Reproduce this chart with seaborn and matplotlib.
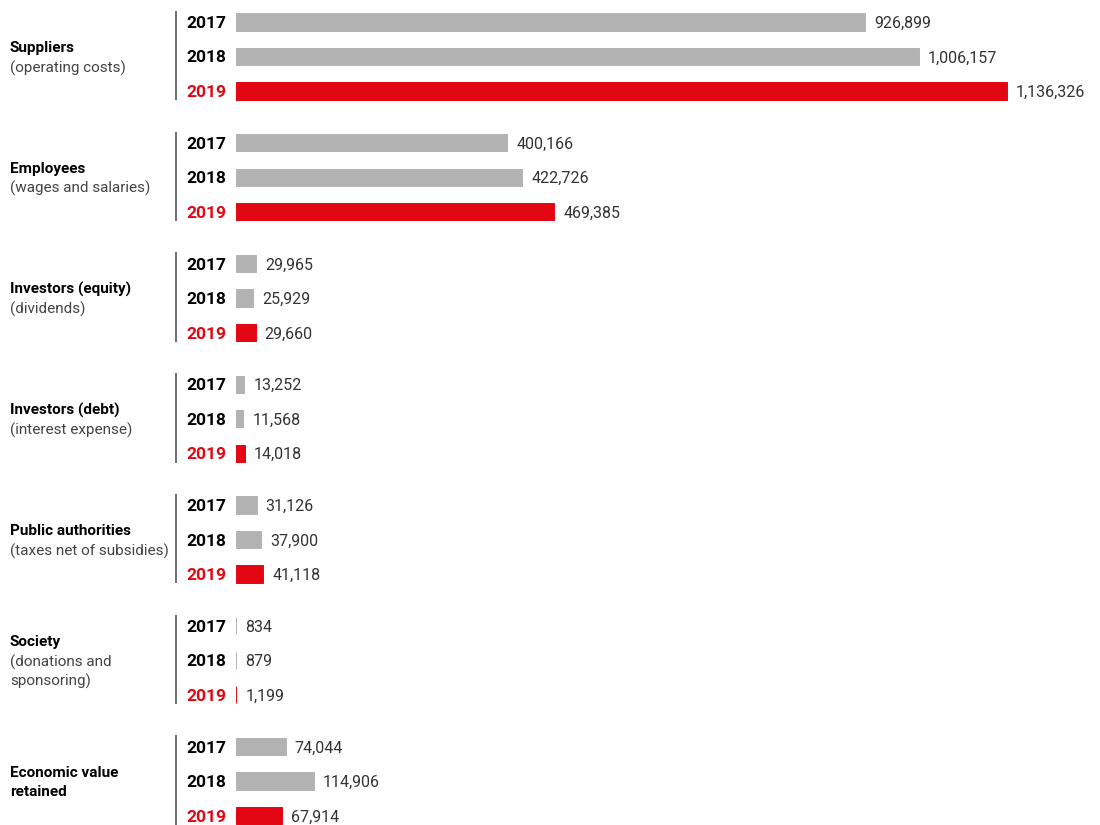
import matplotlib
matplotlib.use("Agg")
import matplotlib.pyplot as plt
import matplotlib.transforms as mtransforms
import seaborn as sns
import pandas as pd

# ---- data ----
categories = ["Suppliers", "Employees", "Investors (equity)", "Investors (debt)",
              "Public authorities", "Society", "Economic value\nretained"]
subtitles = ["(operating costs)", "(wages and salaries)", "(dividends)",
             "(interest expense)", "(taxes net of subsidies)",
             "(donations and\nsponsoring)", ""]
years = ["2017", "2018", "2019"]
values_2017 = [926899, 400166, 29965, 13252, 31126, 834, 74044]
values_2018 = [1006157, 422726, 25929, 11568, 37900, 879, 114906]
values_2019 = [1136326, 469385, 29660, 14018, 41118, 1199, 67914]

GREY = "#b3b3b3"
RED = "#e30613"
GROUP_STEP = 3.5

rows = []
for gi, cat in enumerate(categories):
    for yi, (yr, vals) in enumerate(zip(years, [values_2017, values_2018, values_2019])):
        rows.append({"category": cat, "year": yr, "value": vals[gi],
                     "pos": gi * GROUP_STEP + yi})
df = pd.DataFrame(rows)

sns.set_theme(style="white")
plt.rcParams["font.family"] = ["Roboto", "DejaVu Sans"]

fig = plt.figure(figsize=(11, 8.25), dpi=100)
ax = fig.add_axes([235.5 / 1100, 0, 864.5 / 1100, 1])

sns.barplot(data=df, x="value", y="pos", hue="year", orient="h", native_scale=True,
            dodge=False, palette={"2017": GREY, "2018": GREY, "2019": RED},
            width=0.5, saturation=1, legend=False, ax=ax)

# make very small bars visible as a thin line (edge in face colour)
for p in ax.patches:
    p.set_edgecolor(p.get_facecolor())
    p.set_linewidth(0.7)

ax.set_xlim(0, 1273400)
ax.set_ylim((825 - 22) / 34.5, -22 / 34.5)
ax.axis("off")

# value labels
for _, r in df.iterrows():
    ax.annotate(f"{r['value']:,}", xy=(r["value"], r["pos"]), xytext=(6.5, 0),
                textcoords="offset points", ha="left", va="center_baseline",
                fontsize=11.5, color="#333333")

trans = mtransforms.blended_transform_factory(fig.transFigure, ax.transData)
for gi, cat in enumerate(categories):
    base = gi * GROUP_STEP
    # year labels
    for yi, yr in enumerate(years):
        ax.text(226 / 1100, base + yi, yr, transform=trans, ha="right",
                va="center_baseline", fontsize=12.5, fontweight="bold",
                color=RED if yr == "2019" else "black", clip_on=False)
    # vertical separator
    ax.plot([176 / 1100, 176 / 1100], [base - 0.32, base + 2.27], transform=trans,
            color="#555555", lw=1.2, clip_on=False, solid_capstyle="butt")
    # group label lines
    lines = [(l, True) for l in cat.split("\n")]
    if subtitles[gi]:
        lines += [(l, False) for l in subtitles[gi].split("\n")]
    n = len(lines)
    step = 19.5 / 34.5
    for li, (txt, bold) in enumerate(lines):
        yy = base + 1 + (li - (n - 1) / 2) * step
        ax.text(10 / 1100, yy, txt, transform=trans, ha="left", va="center_baseline",
                fontsize=11, fontweight="bold" if bold else "normal",
                color="black" if bold else "#444444", clip_on=False)

fig.savefig("out.png", dpi=100)
